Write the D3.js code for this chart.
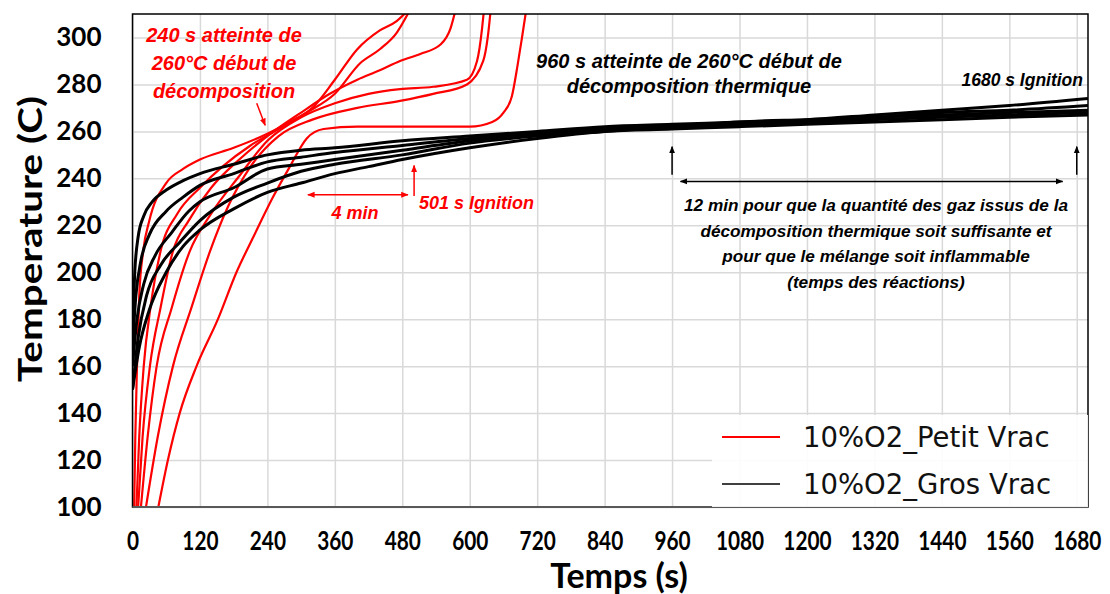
<!DOCTYPE html>
<html lang="fr">
<head>
<meta charset="UTF-8">
<title>Temperature vs Temps - 10%O2</title>
<script src="https://d3js.org/d3.v7.min.js"></script>
<style>
  body { margin: 0; background: #fff; }
</style>
</head>
<body>
<svg width="1110" height="594" font-family="Lato, sans-serif"></svg>
<script>
// [temps (s), temperature (C)]
// Petit Vrac (red)
const petit1 = [[3,100],[5,130],[8,160],[12,190],[19,209],[30,222],[60,238],[90,244],[120,248],[180,253],[240,259],[280,264],[320,270],[360,282],[400,295],[440,303],[470,307],[488,311]]
const petit2 = [[7,100],[12,130],[20,160],[32,185],[50,209],[80,225],[120,236],[160,245],[210,254],[260,261],[310,268],[360,276],[405,289],[440,295],[470,302],[492,311]]
const petit3 = [[10,100],[18,130],[31,160],[50,185],[72,209],[100,222],[140,236],[190,248],[240,258],[300,268],[351,276],[400,282],[440,286],[476,290],[512,293],[548,297],[566,304],[574,311]]
const petit4 = [[15,100],[27,130],[43,160],[70,185],[102,209],[140,225],[190,241],[240,256],[300,266],[360,272],[420,276],[476,278],[535,279],[595,282],[613,290],[622,304],[625,311]]
const petit5 = [[24,100],[45,130],[72,160],[105,185],[138,209],[170,228],[210,245],[260,258],[320,265],[400,270],[476,273],[535,276],[595,280],[624,290],[632,300],[637,311]]
const petit6 = [[46,100],[63,120],[84,140],[114,160],[152,180],[185,200],[215,215],[250,232],[280,245],[310,257],[340,261],[400,262],[500,262],[600,262],[640,264],[660,268],[675,275],[685,288],[693,300],[700,311]]

// Gros Vrac (black)
const gros1 = [[0,175],[4,200],[10,215],[20,224],[35,230],[60,235],[90,239],[120,242],[180,246],[240,250],[300,252],[360,253],[480,256],[600,258],[720,260],[840,262],[960,263],[1080,264],[1200,265],[1320,267],[1440,269],[1560,271],[1700,274]]
const gros2 = [[0,168],[6,190],[15,205],[30,216],[60,226],[90,232],[120,237],[180,242],[240,247],[300,249],[360,251],[480,254],[600,257],[720,259],[840,261],[960,262],[1080,264],[1200,265],[1320,266],[1440,268],[1560,269],[1700,271]]
const gros3 = [[0,160],[8,180],[20,195],[40,207],[70,217],[100,226],[120,230],[180,236],[240,244],[300,246],[360,248],[480,252],[600,256],[720,259],[840,261],[960,262],[1080,263],[1200,264],[1320,266],[1440,267],[1560,268],[1700,269]]
const gros4 = [[0,150],[10,172],[25,190],[50,203],[85,213],[120,222],[180,232],[240,238],[300,243],[360,246],[480,250],[600,255],[720,258],[840,260],[960,262],[1080,263],[1200,264],[1320,265],[1440,266],[1560,267],[1700,268]]
const gros5 = [[0,150],[12,168],[30,184],[60,200],[90,211],[120,218],[180,227],[240,234],[300,238],[360,242],[420,245],[480,248],[600,253],[720,257],[840,260],[960,261],[1080,262],[1200,263],[1320,264],[1440,265],[1560,266],[1700,267]]

const petitSeries = [petit1, petit2, petit3, petit4, petit5, petit6]
const grosSeries = [gros1, gros2, gros3, gros4, gros5]

const xTicks = d3.range(0, 1681, 120)
const yTicks = d3.range(100, 301, 20)
const legendLabels = ["10%O2_Petit Vrac", "10%O2_Gros Vrac"]

const RED = "#ff0000"

let svg = d3.select("svg")
// plot box in px (window.top is taken, so p* names)
let pLeft = 132.5, pRight = 1088, pTop = 14, pBottom = 507

let x = d3.scaleLinear().domain([0, 1700]).range([pLeft, pRight])
let y = d3.scaleLinear().domain([100, 310]).range([pBottom, pTop])

// arrow heads + clip
let defs = svg.append("defs")
defs.append("clipPath").attr("id", "plotclip")
    .append("rect").attr("x", pLeft).attr("y", pTop).attr("width", pRight - pLeft).attr("height", pBottom - pTop)
;[["red", RED], ["blk", "#000"]].forEach(([id, c]) => {
    defs.append("marker")
        .attr("id", "arr-" + id)
        .attr("viewBox", "0 0 10 10")
        .attr("refX", 9).attr("refY", 5)
        .attr("markerWidth", 5).attr("markerHeight", 5)
        .attr("orient", "auto-start-reverse")
        .append("path").attr("d", "M0,1 L10,5 L0,9 z").attr("fill", c)
})

// grid
svg.append("g")
    .attr("transform", `translate(0,${pBottom})`)
    .call(d3.axisBottom(x).tickValues(xTicks).tickSize(-(pBottom - pTop)).tickFormat(""))
    .call(g => g.select(".domain").remove())
    .selectAll("line").attr("stroke", "#d9d9d9").attr("stroke-width", 1.5)
svg.append("g")
    .attr("transform", `translate(${pLeft},0)`)
    .call(d3.axisLeft(y).tickValues(yTicks).tickSize(-(pRight - pLeft)).tickFormat(""))
    .call(g => g.select(".domain").remove())
    .selectAll("line").attr("stroke", "#d9d9d9").attr("stroke-width", 1.5)

// curves
let line = d3.line()
    .x(d => x(d[0]))
    .y(d => y(d[1]))
    .curve(d3.curveMonotoneX)

let curves = svg.append("g").attr("clip-path", "url(#plotclip)").attr("fill", "none")
curves.selectAll(".petit")
    .data(petitSeries)
    .enter()
    .append("path")
    .attr("class", "petit")
    .attr("d", line)
    .attr("stroke", RED)
    .attr("stroke-width", 2.2)
curves.selectAll(".gros")
    .data(grosSeries)
    .enter()
    .append("path")
    .attr("class", "gros")
    .attr("d", line)
    .attr("stroke", "#000")
    .attr("stroke-width", 3)

// frame
svg.append("rect")
    .attr("x", pLeft).attr("y", pTop)
    .attr("width", pRight - pLeft).attr("height", pBottom - pTop)
    .attr("fill", "none").attr("stroke", "#000").attr("stroke-width", 1.5)
svg.append("line")
    .attr("x1", pLeft).attr("x2", pRight).attr("y1", pBottom).attr("y2", pBottom)
    .attr("stroke", "#595959").attr("stroke-width", 2)

// tick labels
svg.append("g")
    .attr("transform", `translate(${pLeft},0)`)
    .call(d3.axisLeft(y).tickValues(yTicks).tickSize(0).tickPadding(31))
    .call(g => g.select(".domain").remove())
    .selectAll("text")
    .attr("font-family", "Lato, sans-serif")
    .attr("font-weight", "bold")
    .attr("font-size", 26)
    .attr("fill", "#000")

// x labels are narrow in the original -> squeeze them horizontally
svg.append("g")
    .attr("transform", `translate(0,${pBottom})`)
    .call(d3.axisBottom(x).tickValues(xTicks).tickSize(0).tickPadding(25).tickFormat(d3.format("d")))
    .call(g => g.select(".domain").remove())
    .selectAll("text")
    .attr("font-family", "Lato, sans-serif")
    .attr("font-weight", "bold")
    .attr("font-size", 26)
    .attr("fill", "#000")
    .attr("transform", "scale(0.8,1)")

// axis titles
svg.append("text")
    .attr("x", 619).attr("y", 588)
    .attr("text-anchor", "middle")
    .attr("font-weight", "bold").attr("font-size", 34)
    .text("Temps (s)")
svg.append("text")
    .attr("transform", "translate(42,239) rotate(-90)")
    .attr("text-anchor", "middle")
    .attr("font-weight", "bold").attr("font-size", 33)
    .attr("textLength", 286).attr("lengthAdjust", "spacingAndGlyphs")
    .text("Temperature (C)")

// legend
let legend = svg.append("g")
legend.append("rect")
    .attr("x", 712).attr("y", 415).attr("width", pRight - 712).attr("height", pBottom - 415)
    .attr("fill", "#fff").attr("fill-opacity", 0.9)
legendLabels.forEach((lab, i) => {
    let ly = 437 + i * 47
    legend.append("line")
        .attr("x1", 722).attr("x2", 780).attr("y1", ly).attr("y2", ly)
        .attr("stroke", i == 0 ? RED : "#404040").attr("stroke-width", 2)
    legend.append("text")
        .attr("x", 803).attr("y", ly + 10)
        .attr("font-family", "'DejaVu Sans', sans-serif")
        .attr("font-size", 27.5)
        .attr("fill", "#111")
        .text(lab)
})

// annotations
let note = svg.append("g")
    .attr("font-family", "'Liberation Sans', Arial, sans-serif")
    .attr("font-weight", "bold").attr("font-style", "italic")

function noteText(lines, cx, y0, dy, size, color, anchor) {
    lines.forEach((t, i) => {
        note.append("text")
            .attr("x", cx).attr("y", y0 + i * dy)
            .attr("text-anchor", anchor || "middle")
            .attr("font-size", size)
            .attr("fill", color)
            .text(t)
    })
}
function arrow(t1, T1, t2, T2, id, both) {
    let a = note.append("line")
        .attr("x1", x(t1)).attr("y1", y(T1))
        .attr("x2", x(t2)).attr("y2", y(T2))
        .attr("stroke", id == "red" ? RED : "#000")
        .attr("stroke-width", 1.5)
        .attr("marker-end", `url(#arr-${id})`)
    if (both) a.attr("marker-start", `url(#arr-${id})`)
}

noteText(["240 s atteinte de", "260°C début de", "décomposition"], 224, 42, 28, 20, RED)
arrow(221, 272, 236, 262.6, "red")

arrow(312, 233, 490, 233, "red", true)
noteText(["4 min"], 355, 219, 0, 18, RED)
arrow(501, 232.5, 501, 245.5, "red")
noteText(["501 s Ignition"], 419, 209, 0, 18, RED, "start")

noteText(["960 s atteinte de 260°C début de", "décomposition thermique"], 689, 68, 25, 20, "#000")
noteText(["1680 s Ignition"], 1083, 86, 0, 17.5, "#000", "end")
arrow(960, 241.5, 960, 253.5, "blk")
arrow(1680, 241.5, 1680, 253.5, "blk")
arrow(975, 238.7, 1655, 238.7, "blk", true)

noteText(["12 min pour que la quantité des gaz issus de la",
          "décomposition thermique soit suffisante et",
          "pour que le mélange soit inflammable",
          "(temps des réactions)"], 876, 211, 25.5, 17.2, "#000")
</script>
</body>
</html>
